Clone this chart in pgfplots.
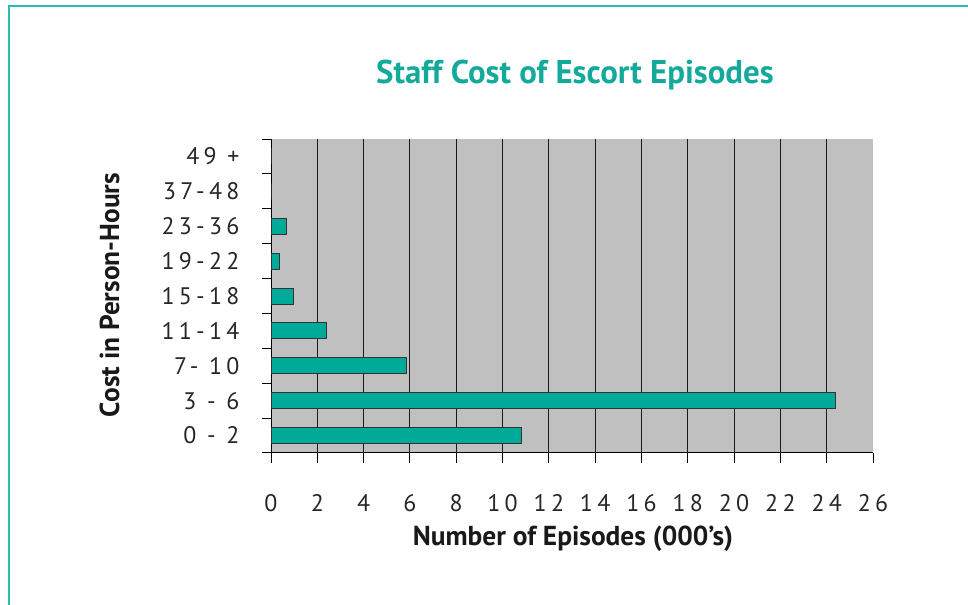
\documentclass[border=0pt]{standalone}
\usepackage{fontspec}
\setmainfont{PT Sans}
\newfontfamily\tickfont[LetterSpace=18]{PT Sans}
\usepackage{pgfplots}
\pgfplotsset{compat=1.18}
\definecolor{barteal}{RGB}{0,170,152}
\definecolor{titleteal}{RGB}{20,170,155}
\definecolor{frameteal}{RGB}{40,190,175}
\definecolor{plotgray}{RGB}{192,192,192}
\begin{document}
\begin{tikzpicture}
\path[use as bounding box] (0,0) rectangle (968bp,605bp);
\draw[frameteal, line width=1.5bp] (9bp,0) -- (9bp,599bp) -- (968bp,599bp);
\begin{axis}[
  at={(271bp,152bp)}, anchor=south west,
  scale only axis, width=602bp, height=314bp,
  xbar, bar width=16bp,
  xmin=0, xmax=26, ymin=-0.5, ymax=8.5,
  axis x line*=bottom, axis y line*=left,
  axis line style={black, line width=1bp, -},
  axis background/.style={fill=plotgray},
  xtick={0,2,...,26},
  extra x ticks={2,4,...,24}, extra x tick labels={},
  extra x tick style={xmajorgrids=true, major grid style={black!90, line width=1bp}},
  ytick={0,...,8},
  yticklabels={0 - 2,3 - 6,7- 10,11-14,15-18,19-22,23-36,37-48,49 +},
  minor ytick={-0.5,0.5,...,8.5},
  tick align=outside,
  major tick length=10bp, minor tick length=9bp,
  major x tick style={black, line width=1bp},
  major y tick style={draw=none},
  minor y tick style={black, line width=1bp},
  /pgf/number format/assume math mode=true,
  ticklabel style={font=\tickfont\fontsize{24}{28}\selectfont, text=black!85},
  xticklabel style={anchor=center, yshift=-40bp},
  yticklabel style={anchor=east, xshift=-18bp},
]
\addplot[fill=barteal, draw=black!80, line width=1bp] coordinates {
  (10.8,0) (24.4,1) (5.85,2) (2.38,3) (0.98,4) (0.38,5) (0.65,6) (0,7) (0,8)
};
\end{axis}
\node[anchor=base, font=\bfseries\fontsize{33}{38}\selectfont, text=titleteal] at (575bp,521bp) {Staff Cost of Escort Episodes};
\node[anchor=base, font=\bfseries\fontsize{27.5}{32}\selectfont, text=black!90] at (573bp,59bp) {Number of Episodes (000's)};
\node[anchor=base, rotate=90, font=\bfseries\fontsize{27.5}{32}\selectfont, text=black!90] at (119bp,310bp) {Cost in Person-Hours};
\end{tikzpicture}
\end{document}
